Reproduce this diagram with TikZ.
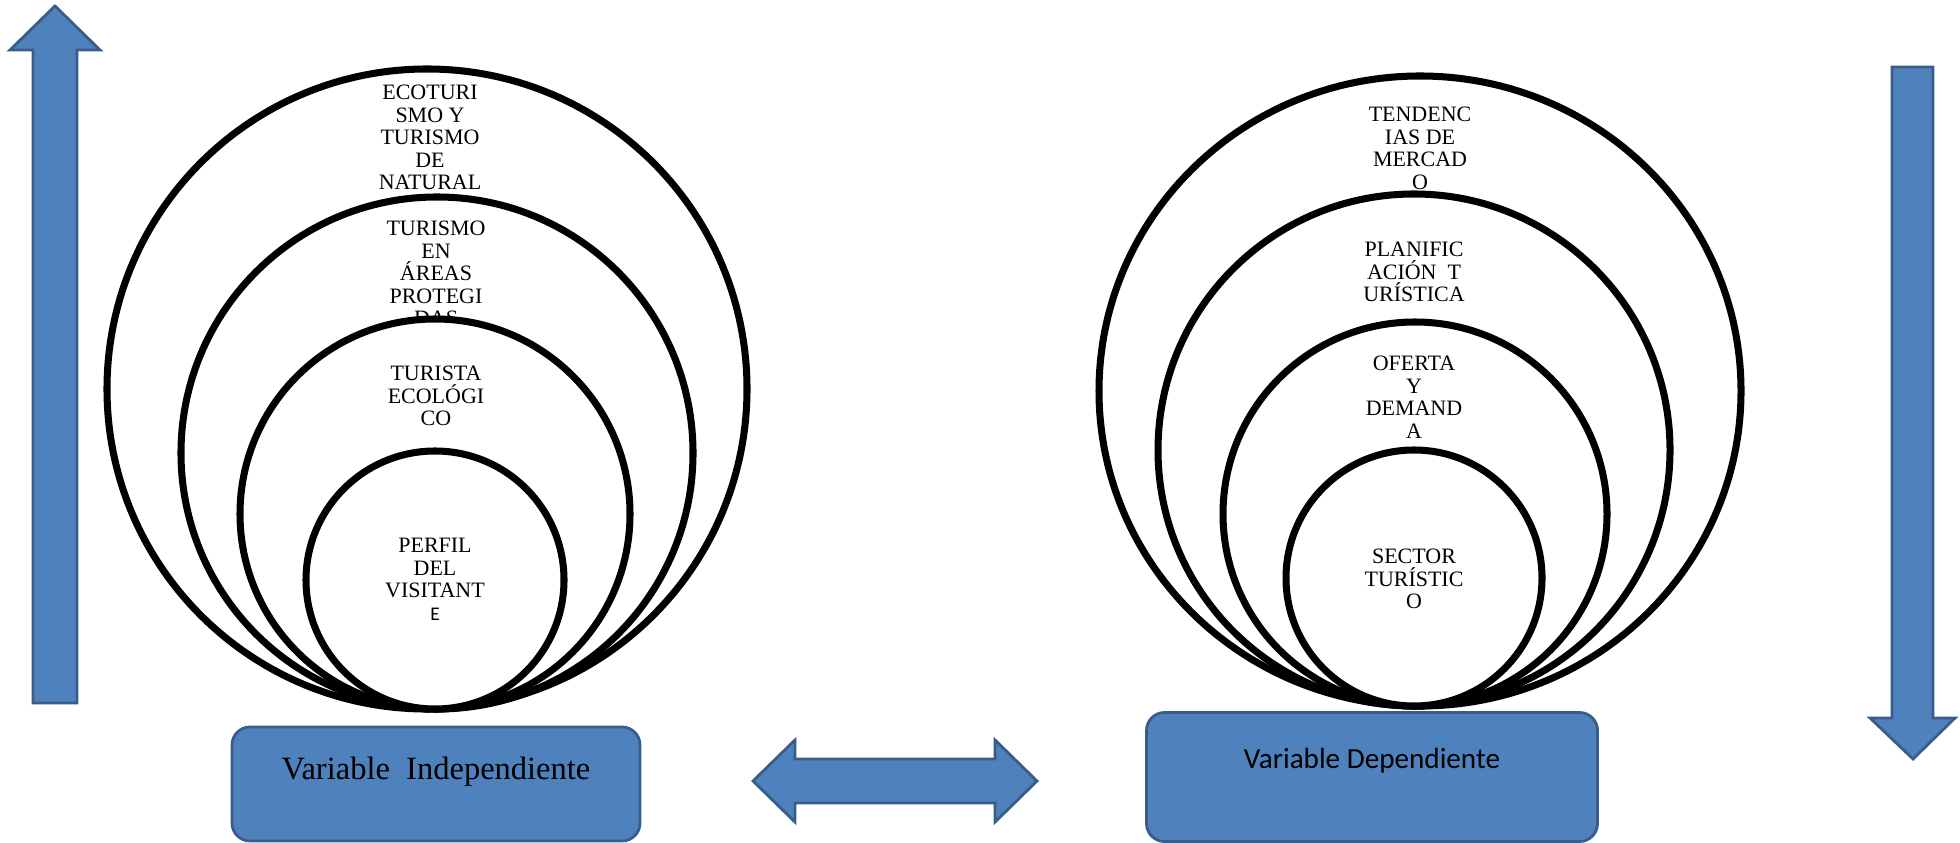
\documentclass[tikz,border=0pt]{standalone}
\usepackage{fontspec}
\setmainfont{Liberation Serif}
\newfontfamily\calibri{Carlito}
\usetikzlibrary{shapes.geometric}
\definecolor{boxblue}{HTML}{4F81BD}
\definecolor{boxline}{HTML}{385D8A}
\begin{document}
\begin{tikzpicture}[x=0.2mm,y=-0.2mm,
    ring/.style={circle,draw,line width=4pt,fill=white,inner sep=0pt},
    ringtext/.style={anchor=north,align=center,inner sep=0pt,font=\fontsize{12.5}{12.8}\selectfont},
    bluebox/.style={draw=boxline,fill=boxblue,line width=1.6pt,rounded corners=3.6mm,inner sep=0pt},
    blockarrow/.style={draw=boxline,fill=boxblue,line width=1.6pt,line join=miter}]
\useasboundingbox (0,0) rectangle (1960,843);

% left side
\node[ring,minimum size=128mm] (eco ring) at (427,389) {};
\node[ringtext] (eco) at (430,85) {ECOTURI\\SMO Y\\TURISMO\\DE\\NATURAL};
\node[ring,minimum size=102.4mm] (areas ring) at (437,453) {};
\node[ringtext] (areas) at (436,221) {TURISMO\\EN\\ÁREAS\\PROTEGI\\DAS};
\node[ring,minimum size=78mm] (turista ring) at (435,514) {};
\node[ringtext] (turista) at (436,366) {TURISTA\\ECOLÓGI\\CO};
\node[ring,minimum size=51.6mm] (perfil ring) at (435,580) {};
\node[ringtext] (perfil) at (435,538) {PERFIL\\DEL\\VISITANT\\{\calibri\fontsize{11}{12.8}\selectfont E}};

% right side
\node[ring,ellipse,minimum width=128.4mm,minimum height=126mm] (tend ring) at (1420,391) {};
\node[ringtext] (tend) at (1420,107) {TENDENC\\IAS DE\\MERCAD\\O};
\node[ring,minimum size=102.4mm] (plan ring) at (1414,450) {};
\node[ringtext] (plan) at (1414,242) {PLANIFIC\\ACIÓN\ \ T\\URÍSTICA};
\node[ring,minimum size=76.8mm] (oferta ring) at (1415,514) {};
\node[ringtext] (oferta) at (1414,356) {OFERTA\\Y\\DEMAND\\A};
\node[ring,minimum size=51.2mm] (sector ring) at (1414,578) {};
\node[ringtext] (sector) at (1414,549) {SECTOR\\TURÍSTIC\\O};

% boxes
\node[bluebox,minimum width=81.6mm,minimum height=22.8mm] (indep box) at (436,784) {};
\node[font=\fontsize{18.5}{22}\selectfont] (indep) at (436,772) {Variable\ \ Independiente};
\node[bluebox,minimum width=90.2mm,minimum height=25.8mm] (dep box) at (1372,777) {};
\node[font=\calibri\fontsize{16.6}{20}\selectfont] (dep) at (1372,761) {Variable Dependiente};

% arrows
\draw[blockarrow] (55,6) -- (100,50) -- (77,50) -- (77,703) -- (33,703) -- (33,50) -- (10,50) -- cycle;
\draw[blockarrow] (1913,759) -- (1955,718) -- (1933,718) -- (1933,67) -- (1892,67) -- (1892,718) -- (1870,718) -- cycle;
\draw[blockarrow] (753,781) -- (795,740) -- (795,759) -- (995,759) -- (995,740) -- (1037,781)
    -- (995,822) -- (995,803) -- (795,803) -- (795,822) -- cycle;
\end{tikzpicture}
\end{document}
